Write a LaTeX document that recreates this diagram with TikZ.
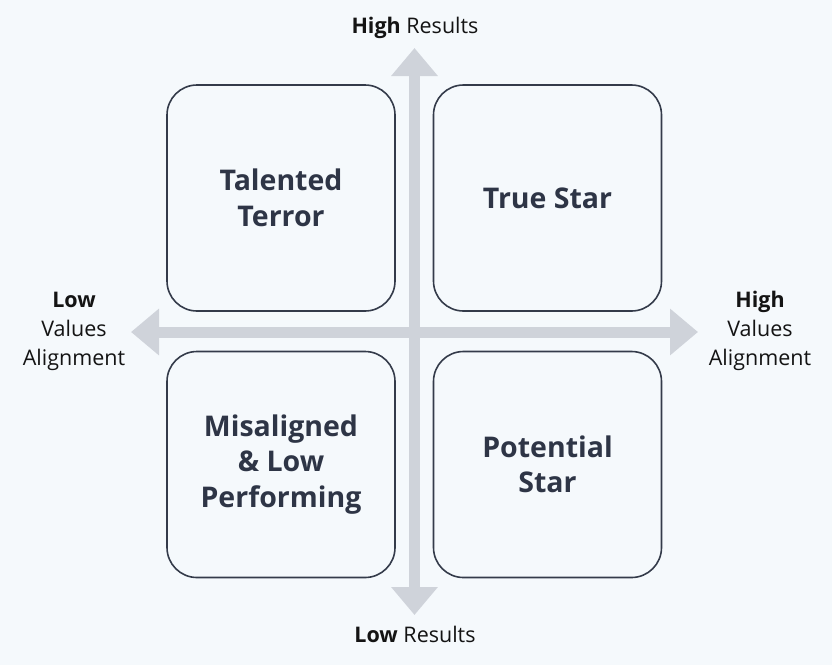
\documentclass[tikz,border=0pt]{standalone}
\usepackage{fontspec}
\setmainfont{Open Sans}
\usetikzlibrary{arrows.meta}
\definecolor{bgcol}{HTML}{F5F9FC}
\definecolor{axiscol}{HTML}{CFD3DA}
\definecolor{boxcol}{HTML}{343B4A}
\definecolor{txtcol}{HTML}{2E3546}

\begin{document}
\begin{tikzpicture}[
x=1pt,y=-1pt,
quad/.style={draw=boxcol,line width=1.6pt,rounded corners=30pt,minimum width=228pt,minimum height=226pt,
  align=center,text=txtcol,font=\fontsize{28.5}{35.5}\selectfont\bfseries},
axlabel/.style={align=center,text=black!92,font=\fontsize{21.5}{29}\selectfont},
axis/.style={draw=axiscol,line width=11pt,-{Triangle[length=28pt,width=45pt]}}]
\fill[bgcol] (0,0) rectangle (832,665);
\useasboundingbox (0,0) rectangle (832,665);
% axis ends
\coordinate (mid) at (414.5,332);
\coordinate (top) at (414.5,48);
\coordinate (bot) at (414.5,615);
\coordinate (left) at (131,332);
\coordinate (right) at (698,332);
\draw[axis] (mid) -- (top);
\draw[axis] (mid) -- (bot);
\draw[axis] (mid) -- (left);
\draw[axis] (mid) -- (right);
% quadrants
\node[quad] (terror) at (281,198) {Talented\\Terror};
\node[quad] (star) at (547.5,198) {True Star};
\node[quad] (misal) at (281,464.5) {Misaligned\\\& Low\\Performing};
\node[quad] (pot) at (547.5,464.5) {Potential\\Star};
% axis labels
\node[axlabel] (hires) at (415,28) {\textbf{High} Results};
\node[axlabel] (lores) at (415,634) {\textbf{Low} Results};
\node[axlabel] (loval) at (74,331) {\textbf{Low}\\Values\\Alignment};
\node[axlabel] (hival) at (760,331) {\textbf{High}\\Values\\Alignment};
\end{tikzpicture}
\end{document}
